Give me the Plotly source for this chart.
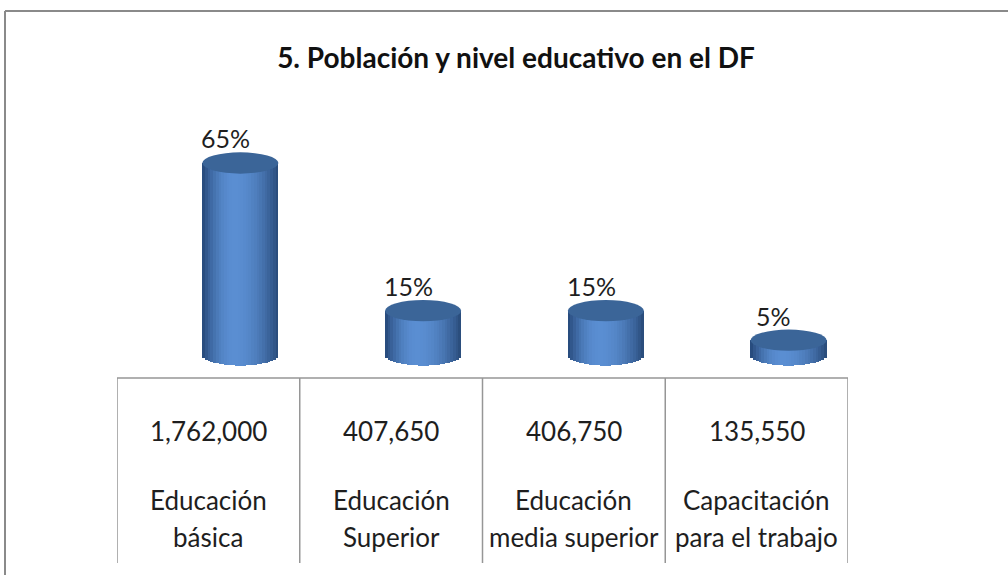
import numpy as np
import plotly.graph_objects as go

# ---------------- data ----------------
categories = ["Educación básica", "Educación Superior", "Educación media superior", "Capacitación para el trabajo"]
name_line1 = ["Educación", "Educación", "Educación", "Capacitación"]
name_line2 = ["básica", "Superior", "media superior", "para el trabajo"]
population = [1762000, 407650, 406750, 135550]
percent = [65, 15, 15, 5]
title = "5. Población y nivel educativo en el DF"

# ---------------- style ----------------
FONT = "Lato"
TXT = "#1e1e1e"
GRID = "#969696"
W, H = 1008, 575
L, R, T, B = 117, 160, 100, 197
plot_h = H - T - B
px_per_unit = 192 / 65.0
y_lo = -(378 - 355) / px_per_unit
y_hi = (355 - T) / px_per_unit

bar_shift = 0.175     # 3-D perspective shift of the cylinders
bar_w = 0.416
ell_h = 3.6           # half-height of the cylinder ellipses (data units)
n_strips = 28

def lerp(c1, c2, f):
    return tuple(int(round(a + (b - a) * f)) for a, b in zip(c1, c2))

edge_l = (36, 70, 118)
edge_r = (40, 74, 120)
hi = (90, 142, 210)

fig = go.Figure()
xs = np.arange(len(categories))
sw = bar_w / n_strips
for i in range(n_strips):
    t = (i + 0.5) / n_strips
    u = 2 * t - 1
    if t < 0.42:
        f = 1 - ((0.42 - t) / 0.42) ** 2
        col = lerp(edge_l, hi, f)
    else:
        f = 1 - ((t - 0.42) / 0.58) ** 2
        col = lerp(edge_r, hi, f)
    base = -ell_h * np.sqrt(max(0.0, 1 - u * u))
    fig.add_trace(go.Bar(
        x=xs + bar_shift - bar_w / 2 + (i + 0.5) * sw,
        y=[p - base for p in percent],
        base=[base] * len(percent),
        width=sw * 1.08,
        marker=dict(color="rgb(%d,%d,%d)" % col, line=dict(width=0)),
        hoverinfo="skip", showlegend=False,
    ))

shapes = []
for k, p in enumerate(percent):
    cx = xs[k] + bar_shift
    shapes.append(dict(type="circle", xref="x", yref="y",
                       x0=cx - bar_w / 2, x1=cx + bar_w / 2,
                       y0=p - ell_h, y1=p + ell_h,
                       fillcolor="#3b6598", line=dict(width=0), layer="above"))

# category table lines
shapes.append(dict(type="line", xref="x", yref="paper", x0=-0.5, x1=len(categories) - 0.5,
                   y0=0, y1=0, line=dict(color=GRID, width=1.5)))
for k in range(len(categories) + 1):
    shapes.append(dict(type="line", xref="x", yref="paper", x0=k - 0.5, x1=k - 0.5,
                       y0=0, y1=-(563 - 378) / plot_h, line=dict(color=GRID, width=1.5)))

# chart-area border (cropped at right and bottom)
bx = (5 - L) / (W - L - R)
by = (H - B - 11) / plot_h
shapes.append(dict(type="line", xref="paper", yref="paper", x0=bx, x1=bx, y0=-1, y1=by,
                   line=dict(color="#8a8a8a", width=2)))
shapes.append(dict(type="line", xref="paper", yref="paper", x0=bx, x1=1.5, y0=by, y1=by,
                   line=dict(color="#8a8a8a", width=2)))

annotations = []
for k, p in enumerate(percent):
    annotations.append(dict(x=xs[k] + bar_shift - 0.08, y=p + ell_h, xref="x", yref="y",
                            text="%d%%" % p, showarrow=False, yanchor="bottom", yshift=-3,
                            font=dict(family=FONT, size=25, color=TXT)))
for k in range(len(categories)):
    for txt, dy in [("{:,}".format(population[k]), -53), (name_line1[k], -122), (name_line2[k], -159)]:
        annotations.append(dict(x=xs[k], y=0, xref="x", yref="paper", text=txt,
                                showarrow=False, yanchor="middle", yshift=dy,
                                font=dict(family=FONT, size=26, color=TXT)))

fig.update_layout(
    width=W, height=H,
    margin=dict(l=L, r=R, t=T, b=B),
    paper_bgcolor="white", plot_bgcolor="rgba(0,0,0,0)",
    barmode="overlay", bargap=0,
    title=dict(text="<b>" + title + "</b>", x=516 / W, xanchor="center", y=1 - 58 / H, yanchor="middle",
               font=dict(family=FONT, size=28, color="#111111")),
    xaxis=dict(range=[-0.5, len(categories) - 0.5], visible=False),
    yaxis=dict(range=[y_lo, y_hi], visible=False),
    shapes=shapes, annotations=annotations,
)

fig.write_html("out.html", config={"displayModeBar": False},
               post_script="document.body.style.margin='0';document.body.style.overflow='hidden';")
